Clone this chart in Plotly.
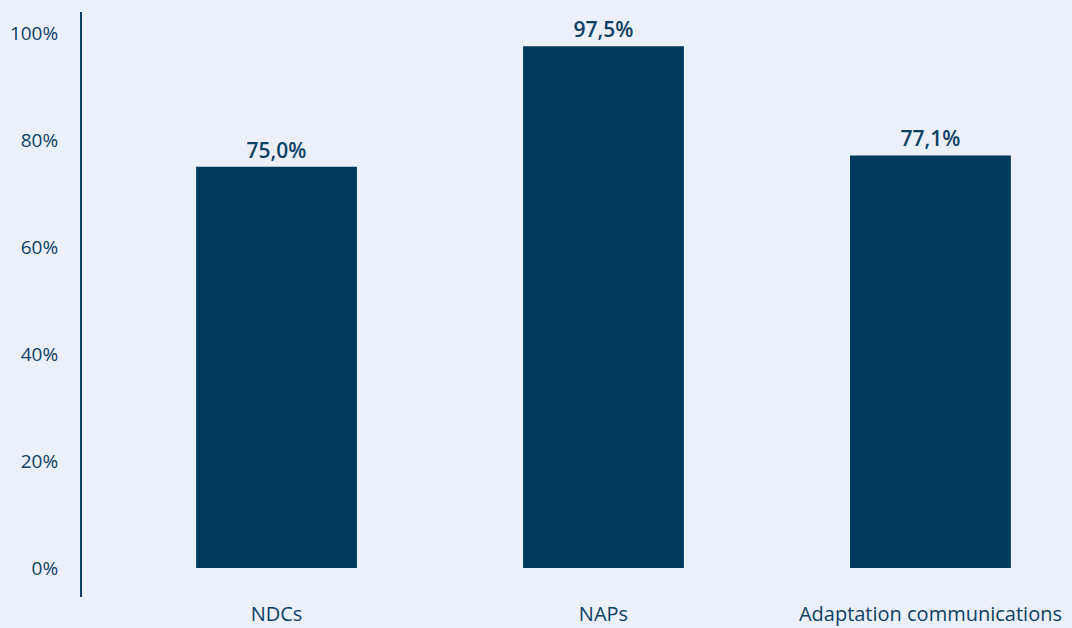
import plotly.graph_objects as go

categories = ["NDCs", "NAPs", "Adaptation communications"]
values = [75.0, 97.5, 77.1]
y_ticks = [0, 20, 40, 60, 80, 100]
y_tick_labels = ["0%", "20%", "40%", "60%", "80%", "100%"]

bar_color = "#003a5d"
text_color = "#0d4066"
bg = "#ebf0fa"

fig = go.Figure(go.Bar(
    x=categories,
    y=values,
    marker=dict(color=bar_color, line=dict(width=0)),
    width=0.492,
    texttemplate="%{y:.1f}%",
    textposition="outside",
    cliponaxis=False,
    textfont=dict(family="Open Sans", size=21, color=text_color, weight=600),
))

fig.update_layout(
    width=1072, height=628,
    paper_bgcolor=bg, plot_bgcolor=bg,
    margin=dict(l=82, r=0, t=12, b=31),
    separators=",.",
    showlegend=False,
    font=dict(family="Open Sans", color=text_color),
)
fig.update_xaxes(
    range=[-0.595, 2.433],
    showgrid=False, showline=False, zeroline=False,
    tickfont=dict(size=20, color=text_color),
    ticklabelstandoff=3,
)
fig.update_yaxes(
    range=[-5.42, 103.9],
    tickmode="array", tickvals=y_ticks, ticktext=y_tick_labels,
    showgrid=False, zeroline=False,
    showline=True, linecolor="#0d3f66", linewidth=2,
    tickfont=dict(size=19, color=text_color),
    ticklabelstandoff=18,
)

fig.write_html(
    "out.html",
    config={"displayModeBar": False},
    post_script="document.body.style.margin='0';document.body.style.background='%s';" % bg,
)
